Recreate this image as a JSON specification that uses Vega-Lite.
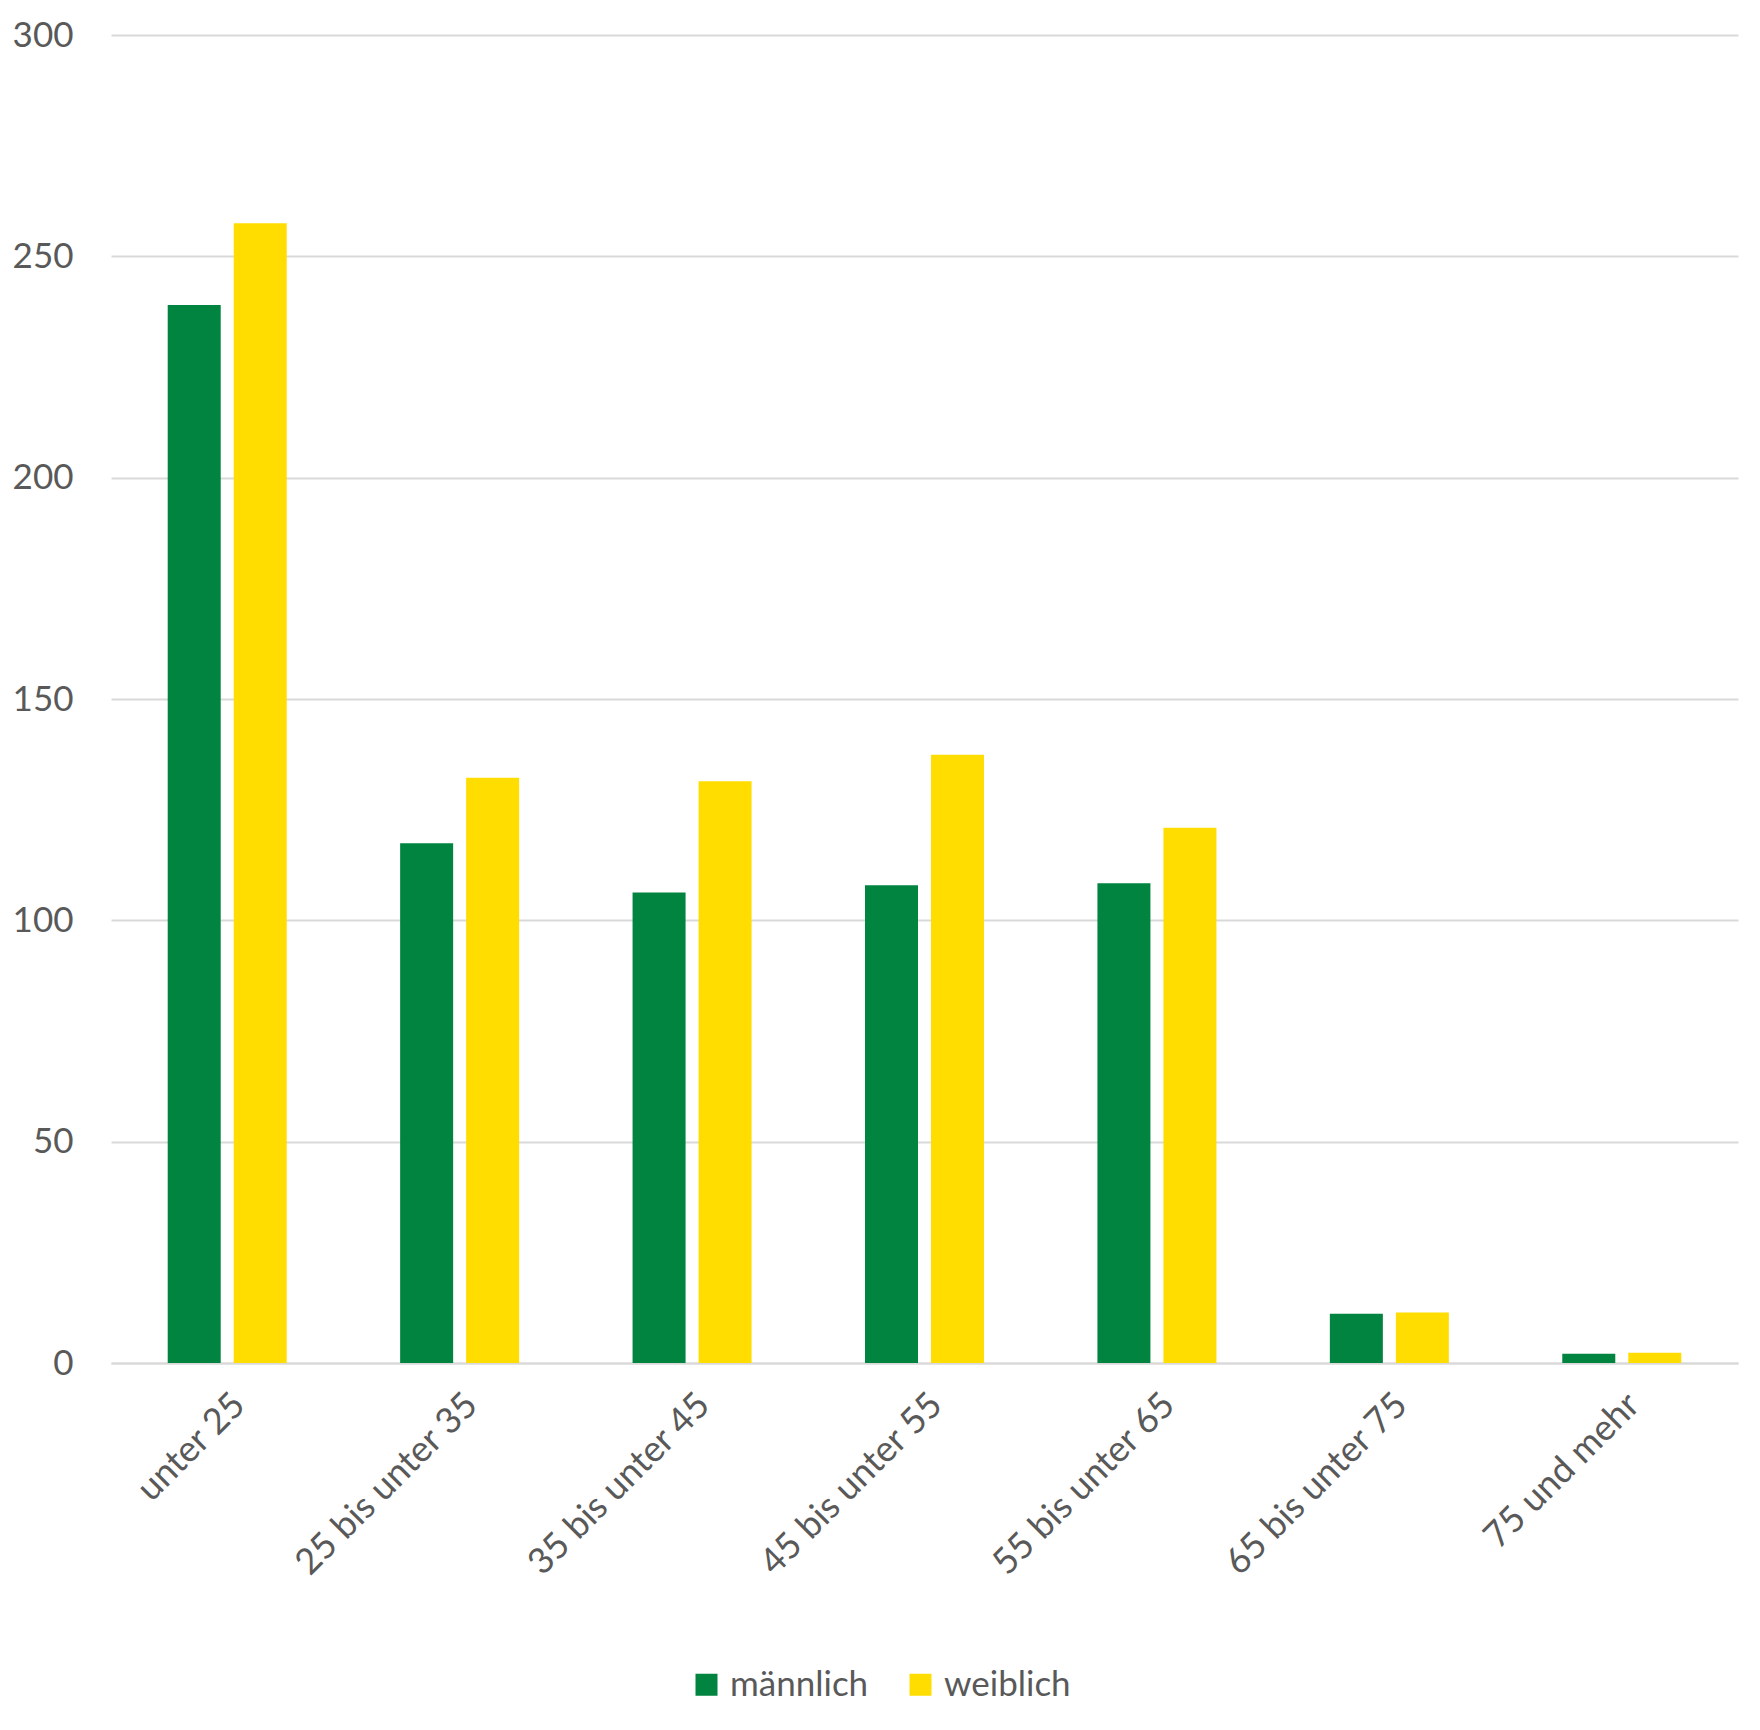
{
  "$schema": "https://vega.github.io/schema/vega-lite/v6.json",
  "width": 1627,
  "height": 1328,
  "autosize": {"type": "none"},
  "padding": {"left": 111, "top": 35, "right": 22, "bottom": 367},
  "background": "white",
  "data": {
    "values": [
      {"Alter": "unter 25", "Geschlecht": "männlich", "Wert": 239},
      {"Alter": "unter 25", "Geschlecht": "weiblich", "Wert": 257.5},
      {"Alter": "25 bis unter 35", "Geschlecht": "männlich", "Wert": 117.4},
      {"Alter": "25 bis unter 35", "Geschlecht": "weiblich", "Wert": 132.2},
      {"Alter": "35 bis unter 45", "Geschlecht": "männlich", "Wert": 106.3},
      {"Alter": "35 bis unter 45", "Geschlecht": "weiblich", "Wert": 131.4},
      {"Alter": "45 bis unter 55", "Geschlecht": "männlich", "Wert": 107.9},
      {"Alter": "45 bis unter 55", "Geschlecht": "weiblich", "Wert": 137.4},
      {"Alter": "55 bis unter 65", "Geschlecht": "männlich", "Wert": 108.4},
      {"Alter": "55 bis unter 65", "Geschlecht": "weiblich", "Wert": 120.9},
      {"Alter": "65 bis unter 75", "Geschlecht": "männlich", "Wert": 11.1},
      {"Alter": "65 bis unter 75", "Geschlecht": "weiblich", "Wert": 11.4},
      {"Alter": "75 und mehr", "Geschlecht": "männlich", "Wert": 2.1},
      {"Alter": "75 und mehr", "Geschlecht": "weiblich", "Wert": 2.3}
    ]
  },
  "mark": {"type": "bar"},
  "encoding": {
    "x": {
      "field": "Alter",
      "type": "nominal",
      "sort": null,
      "title": null,
      "scale": {"paddingInner": 0.488, "paddingOuter": 0.244},
      "axis": {
        "labelAngle": -45,
        "labelFont": "Lato",
        "labelFontSize": 36,
        "labelColor": "#595959",
        "labelPadding": 24,
        "labelDx": -7,
        "labelDy": -7,
        "labelLimit": 0,
        "labelOverlap": false,
        "ticks": false,
        "domain": true,
        "domainColor": "#D9D9D9",
        "domainWidth": 2,
        "grid": false
      }
    },
    "xOffset": {
      "field": "Geschlecht",
      "type": "nominal",
      "scale": {"paddingInner": 0.197, "paddingOuter": 0}
    },
    "y": {
      "field": "Wert",
      "type": "quantitative",
      "title": null,
      "scale": {"domain": [0, 300], "nice": false},
      "axis": {
        "values": [0, 50, 100, 150, 200, 250, 300],
        "labelFont": "Lato",
        "labelFontSize": 35,
        "labelColor": "#595959",
        "labelPadding": 38,
        "ticks": false,
        "domain": false,
        "grid": true,
        "gridColor": "#D9D9D9",
        "gridWidth": 2
      }
    },
    "color": {
      "field": "Geschlecht",
      "type": "nominal",
      "scale": {"domain": ["männlich", "weiblich"], "range": ["#00843F", "#FFDD00"]},
      "legend": {
        "title": null,
        "orient": "none",
        "direction": "horizontal",
        "legendX": 578,
        "legendY": 1632,
        "symbolType": "square",
        "symbolSize": 484,
        "symbolStrokeWidth": 0,
        "symbolOpacity": 1,
        "labelFont": "Lato",
        "labelFontSize": 35,
        "labelColor": "#595959",
        "labelOffset": 6,
        "columnPadding": 34
      }
    }
  },
  "config": {
    "view": {"stroke": null}
  }
}
